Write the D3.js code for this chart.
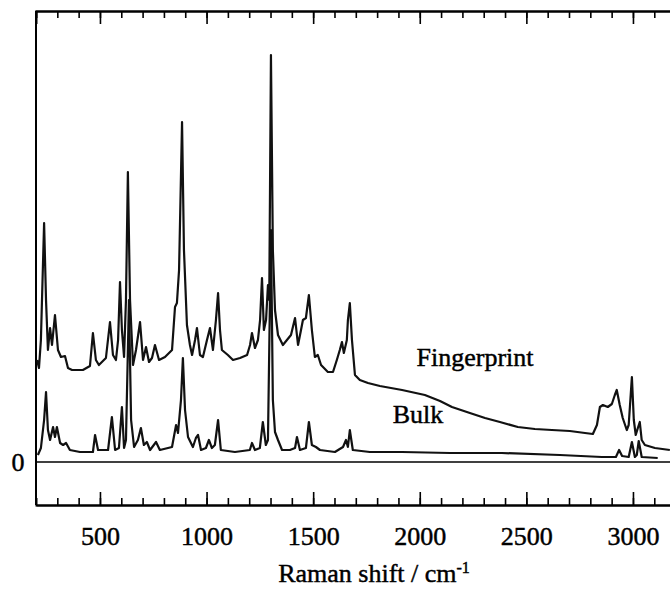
<!DOCTYPE html>
<html>
<head>
<meta charset="utf-8">
<script src="https://cdn.jsdelivr.net/npm/d3@7/dist/d3.min.js"></script>
<style>
  body { margin: 0; background: #fff; }
  svg text, svg tspan { font-family: "Liberation Serif", "DejaVu Serif", "Times New Roman", Times, serif; }
</style>
</head>
<body>
<script>

// Raman shift / cm-1 and intensity (arbitrary units)
var fingerprintShift = [205, 214, 223, 238, 247, 256, 266, 275, 289, 303, 317, 336, 350, 369, 420, 453, 467, 481, 495,
  528, 547, 561, 575, 585, 594, 603, 613, 622, 631, 641, 655, 669, 688, 702, 716, 730, 744, 758, 777, 805, 838, 852,
  861, 871, 885, 894, 908, 922, 932, 946, 955, 969, 983, 1002, 1016, 1030, 1044, 1054, 1063, 1072, 1100, 1124, 1157,
  1190, 1204, 1213, 1227, 1241, 1251, 1260, 1269, 1279, 1288, 1294, 1302, 1311, 1321, 1335, 1358, 1377, 1396, 1415,
  1429, 1443, 1452, 1466, 1480, 1494, 1508, 1522, 1537, 1569, 1593, 1611, 1625, 1635, 1644, 1658, 1663, 1672, 1682,
  1696, 1719, 1757, 1813, 1917, 2024, 2095, 2151, 2235, 2306, 2376, 2460, 2540, 2620, 2704, 2775, 2812, 2831, 2845,
  2859, 2882, 2901, 2915, 2924, 2938, 2952, 2971, 2980, 2995, 3004, 3013, 3023, 3032, 3041, 3056, 3103, 3173];
var fingerprintInt = [102, 94, 122, 239, 162, 112, 134, 117, 147, 112, 105, 106, 94, 92, 92, 96, 129, 102, 97,
  104, 140, 107, 102, 122, 180, 132, 105, 162, 290, 162, 97, 112, 140, 102, 115, 100, 104, 117, 102, 105, 112, 155,
  159, 192, 340, 212, 137, 117, 107, 122, 134, 107, 105, 122, 134, 112, 142, 169, 132, 112, 107, 102, 104,
  107, 117, 129, 114, 122, 142, 184, 132, 142, 177, 162, 407, 212, 152, 127, 117, 122, 127, 144,
  117, 132, 142, 144, 167, 132, 105, 107, 97, 90, 90, 102, 112, 120, 109, 122, 142, 159, 122,
  87, 82, 79, 76, 72, 67, 61, 55, 49, 44, 40, 35, 33, 32, 31, 29, 28, 37, 55,
  57, 55, 58, 67, 72, 57, 44, 32, 37, 85, 42, 27, 34, 40, 22, 17, 14, 12];

var bulkShift = [209, 223, 238, 247, 256, 266, 280, 289, 298, 313, 327, 341, 359, 406, 467, 477, 491, 538, 556, 571,
  589, 603, 613, 622, 636, 646, 660, 678, 692, 706, 720, 735, 763, 781, 838, 857, 866, 880, 889, 899, 913, 936, 950,
  960, 974, 997, 1011, 1025, 1039, 1054, 1067, 1133, 1203, 1213, 1227, 1250, 1264, 1278, 1288, 1302, 1311, 1321,
  1335, 1354, 1391, 1415, 1424, 1438, 1466, 1480, 1494, 1513, 1532, 1602, 1640, 1654, 1663, 1672, 1686, 1766, 1917,
  2141, 2385, 2657, 2854, 2920, 2935, 2949, 2980, 2995, 3009, 3018, 3027, 3041, 3116];
var bulkInt = [7, 14, 42, 70, 32, 22, 35, 25, 35, 19, 17, 19, 12, 10, 10, 27, 12, 12, 45, 12,
  14, 55, 14, 22, 162, 42, 15, 22, 34, 17, 20, 12, 20, 12, 15, 37, 29, 62, 104, 52, 25, 15, 24,
  27, 12, 14, 22, 14, 17, 42, 12, 10, 12, 19, 12, 14, 40, 17, 22, 232, 62, 30,
  22, 12, 12, 14, 25, 12, 14, 40, 17, 15, 12, 10, 15, 22, 15, 32, 12, 10, 10,
  9, 9, 7, 5, 5, 12, 6, 5, 20, 5, 7, 21, 5, 4];

var majorTicks = [500, 1000, 1500, 2000, 2500, 3000];
var minorTicks = d3.range(300, 3200, 100);
var zeroLabel = "0";
var xTitle = "Raman shift / cm";
var seriesLabels = ["Fingerprint", "Bulk"];

var width = 670,
    height = 591;

var svg = d3.select("body").append("svg")
    .attr("width", width)
    .attr("height", height);

var x = d3.scaleLinear().domain([200, 3200]).range([36, 675.6]);
var y = d3.scaleLinear().domain([-43, 451]).range([505, 11]);

var lineFn = d3.line()
    .x(function(d) { return x(d[0]); })
    .y(function(d) { return y(d[1]); });

function pairs(xs, ys) {
  return xs.map(function(v, i) { return [v, ys[i]]; });
}

function label(sel, size) {
  return sel.attr("font-size", size)
    .attr("fill", "#000")
    .attr("stroke", "#000")
    .attr("stroke-width", 0.45);
}

// frame: left edge
svg.append("line")
    .attr("x1", 36).attr("x2", 36)
    .attr("y1", 11).attr("y2", 505)
    .attr("stroke", "#000").attr("stroke-width", 2);

// bottom axis, ticks pointing in
svg.append("g")
    .attr("transform", "translate(0,505)")
    .call(d3.axisBottom(x).tickValues(minorTicks).tickSize(-7).tickFormat(""));
var bottomMajor = svg.append("g")
    .attr("transform", "translate(0,505)")
    .call(d3.axisBottom(x).tickValues(majorTicks).tickSizeInner(-13).tickSizeOuter(0).tickPadding(22)
      .tickFormat(d3.format("d")));

// top axis, ticks pointing in
svg.append("g")
    .attr("transform", "translate(0,11)")
    .call(d3.axisTop(x).tickValues(minorTicks).tickSize(-7).tickFormat(""));
svg.append("g")
    .attr("transform", "translate(0,11)")
    .call(d3.axisTop(x).tickValues(majorTicks).tickSize(-13).tickFormat(""));

svg.selectAll(".domain").attr("stroke-width", 2).attr("stroke", "#000");
svg.selectAll(".tick line").attr("stroke-width", 1.6).attr("stroke", "#000");
bottomMajor.attr("font-size", 26);
label(bottomMajor.selectAll("text"), 26);

// zero line
svg.append("line")
    .attr("x1", 36).attr("x2", width)
    .attr("y1", y(0)).attr("y2", y(0))
    .attr("stroke", "#000").attr("stroke-width", 1.6);

label(svg.append("text"), 26)
    .attr("x", 18).attr("y", y(0))
    .attr("dy", "0.35em")
    .attr("text-anchor", "middle")
    .text(zeroLabel);

// spectra
var plot = svg.append("g");

plot.append("path")
    .datum(pairs(bulkShift, bulkInt))
    .attr("fill", "none")
    .attr("stroke", "#111")
    .attr("stroke-width", 2.2)
    .attr("stroke-linejoin", "round")
    .attr("d", lineFn);

plot.append("path")
    .datum(pairs(fingerprintShift, fingerprintInt))
    .attr("fill", "none")
    .attr("stroke", "#111")
    .attr("stroke-width", 2.2)
    .attr("stroke-linejoin", "round")
    .attr("d", lineFn);

// series labels
label(svg.append("text"), 26)
    .attr("x", 475).attr("y", 366)
    .attr("text-anchor", "middle")
    .text(seriesLabels[0]);

label(svg.append("text"), 26)
    .attr("x", 418).attr("y", 423)
    .attr("text-anchor", "middle")
    .text(seriesLabels[1]);

// x axis title
var title = label(svg.append("text"), 26)
    .attr("x", 374).attr("y", 582)
    .attr("text-anchor", "middle")
    .text(xTitle);
title.append("tspan")
    .attr("dy", "-0.55em")
    .attr("font-size", 16)
    .text("-1");

</script>
</body>
</html>
